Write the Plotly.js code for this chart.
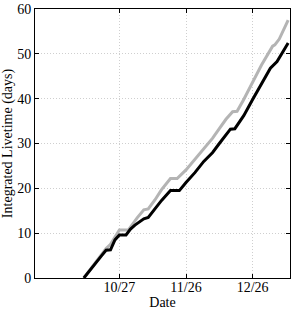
<!DOCTYPE html>
<html><head><meta charset="utf-8">
<script src="https://cdn.plot.ly/plotly-3.0.1.min.js"></script>
<style>html,body{margin:0;padding:0;background:#fff;}#chart{width:294px;height:314px;}</style>
</head><body><div id="chart"></div>
<script>
const blackDates = ["2010-10-11","2010-10-13","2010-10-15","2010-10-17","2010-10-19","2010-10-21","2010-10-23","2010-10-25","2010-10-27","2010-10-30","2010-11-01","2010-11-03","2010-11-05","2010-11-07","2010-11-09","2010-11-12","2010-11-15","2010-11-19","2010-11-23","2010-11-26","2010-11-30","2010-12-04","2010-12-08","2010-12-11","2010-12-16","2010-12-18","2010-12-22","2010-12-26","2010-12-30","2011-01-03","2011-01-06","2011-01-09","2011-01-11"];
const blackValues = [0,1.3,2.5,3.8,5.0,6.2,6.3,8.5,9.6,9.6,10.9,11.8,12.6,13.2,13.5,15.4,17.3,19.5,19.5,21.3,23.5,26.0,28.0,30.0,33.2,33.3,36.2,39.8,43.4,46.8,48.3,50.8,52.4];
const grayDates = ["2010-10-11","2010-10-13","2010-10-15","2010-10-17","2010-10-19","2010-10-21","2010-10-23","2010-10-25","2010-10-27","2010-10-31","2010-11-02","2010-11-04","2010-11-07","2010-11-09","2010-11-12","2010-11-15","2010-11-19","2010-11-22","2010-11-26","2010-11-30","2010-12-04","2010-12-08","2010-12-11","2010-12-14","2010-12-17","2010-12-19","2010-12-22","2010-12-26","2010-12-30","2011-01-04","2011-01-05","2011-01-07","2011-01-09","2011-01-11"];
const grayValues = [0,1.3,2.5,3.9,5.2,6.6,7.5,9.2,10.7,10.7,12.2,13.4,15.2,15.4,17.4,19.7,22.2,22.2,24.1,26.4,28.7,31.2,33.3,35.4,37.1,37.2,39.8,43.7,47.5,51.7,52.0,53.3,55.4,57.5];
const xTickVals = ["2010-10-27","2010-11-26","2010-12-26"];
const xTickText = ["10/27","11/26","12/26"];
const yTickVals = [0,10,20,30,40,50,60];

const font = {family: "Liberation Serif", size: 14, color: "#000"};
const traces = [
  {x: grayDates, y: grayValues, mode: "lines", line: {color: "#b4b4b4", width: 3}, hoverinfo: "skip"},
  {x: blackDates, y: blackValues, mode: "lines", line: {color: "#000", width: 3}, hoverinfo: "skip"}
];
const layout = {
  width: 294, height: 314,
  margin: {l: 35, r: 4, t: 9, b: 36},
  paper_bgcolor: "#fff", plot_bgcolor: "#fff",
  showlegend: false,
  font: font,
  xaxis: {
    type: "date",
    range: ["2010-09-19", "2011-01-11 20:00"],
    tickvals: xTickVals, ticktext: xTickText,
    ticks: "inside", ticklen: 4, tickcolor: "#000",
    showline: true, linecolor: "#000", linewidth: 1, mirror: "ticks",
    showgrid: true, gridcolor: "#cfcfcf", griddash: "1px,2px", gridwidth: 1,
    zeroline: false,
    tickfont: font,
    ticklabelstandoff: -4,
    title: {text: "Date", font: font, standoff: 0}
  },
  yaxis: {
    range: [0, 60],
    tickvals: yTickVals,
    ticks: "inside", ticklen: 4, tickcolor: "#000",
    showline: true, linecolor: "#000", linewidth: 1, mirror: "ticks",
    showgrid: true, gridcolor: "#cfcfcf", griddash: "1px,2px", gridwidth: 1,
    zeroline: false,
    tickfont: font,
    title: {text: "Integrated Livetime (days)", font: font, standoff: 3}
  }
};
Plotly.newPlot("chart", traces, layout, {staticPlot: true, displayModeBar: false});
</script></body></html>
